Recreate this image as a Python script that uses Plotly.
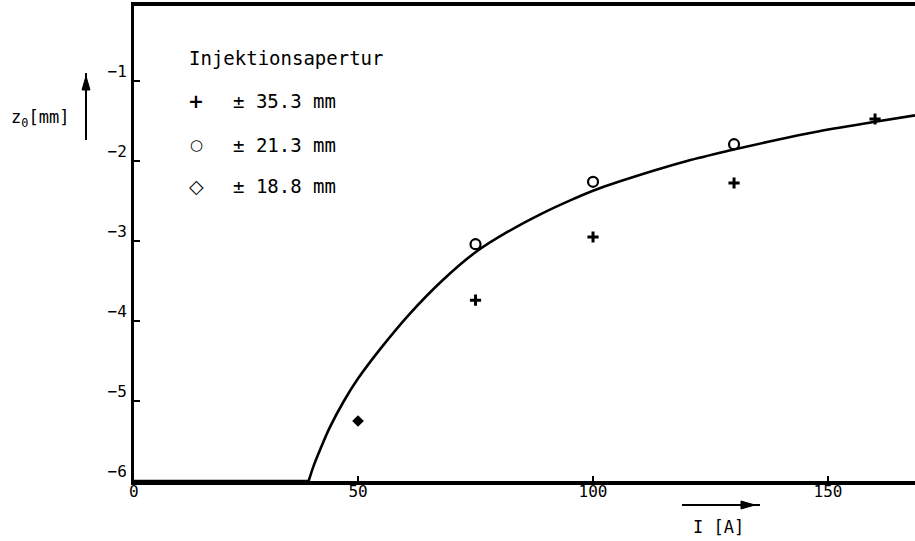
import plotly.graph_objects as go

# ---- data ----
flat_I = [0, 39.5]
flat_z = [-6.0, -6.0]
curve_I = [39.5, 40.5, 42, 44, 47, 50, 55, 61, 68, 75, 82, 89, 96, 101,
           113, 120, 129, 138, 147, 160, 168.5]
curve_z = [-6.0, -5.82, -5.6, -5.33, -5.0, -4.72, -4.33, -3.91, -3.49, -3.14,
           -2.88, -2.66, -2.47, -2.35, -2.12, -2.0, -1.87, -1.75, -1.64, -1.51, -1.43]

plus_I = [75, 100, 130, 160]
plus_z = [-3.74, -2.95, -2.275, -1.475]
circle_I = [75, 100, 130]
circle_z = [-3.04, -2.26, -1.79]
diamond_I = [50]
diamond_z = [-5.25]

x_ticks = [50, 100, 150]
y_ticks = [-1, -2, -3, -4, -5, -6]
legend_title = "Injektionsapertur"
legend_symbols = ["+", "○", "◇"]
legend_labels = ["± 35.3 mm", "± 21.3 mm", "± 18.8 mm"]
x_title = "I [A]"
y_title = "z<sub>0</sub>[mm]"

# ---- layout geometry ----
W, H = 915, 541
L, R, T, B = 134, 0, 6, 60
FONT = "DejaVu Sans Mono"


def paper(xp, yp):
    return (xp - L) / (W - L - R), (H - B - yp) / (H - T - B)


def path_px(points):
    parts = []
    for i, (a, b) in enumerate(points):
        px_, py_ = paper(a, b)
        parts.append(("M" if i == 0 else "L") + f"{px_:.5f},{py_:.5f}")
    return " ".join(parts) + " Z"


fig = go.Figure()

for xs, ys in ((flat_I, flat_z), (curve_I, curve_z)):
    fig.add_trace(go.Scatter(x=xs, y=ys, mode="lines",
                             line=dict(color="black", width=2.6, shape="spline", smoothing=1),
                             showlegend=False, hoverinfo="skip"))
fig.add_trace(go.Scatter(x=plus_I, y=plus_z, mode="markers",
                         marker=dict(symbol="cross-thin", size=8, color="black",
                                     line=dict(color="black", width=3)),
                         showlegend=False))
fig.add_trace(go.Scatter(x=circle_I, y=circle_z, mode="markers",
                         marker=dict(symbol="circle-open", size=10, color="black",
                                     line=dict(color="black", width=2.2)),
                         showlegend=False))
fig.add_trace(go.Scatter(x=diamond_I, y=diamond_z, mode="markers",
                         marker=dict(symbol="diamond", size=9, color="black"),
                         showlegend=False))

annotations = []
tx, ty = paper(187, 58)
annotations.append(dict(x=tx, y=ty, xref="paper", yref="paper", text=legend_title,
                        showarrow=False, xanchor="left", yanchor="middle",
                        font=dict(family=FONT, size=19, color="black")))
rows_y = [101, 145, 186]
sym_fonts = [dict(family="DejaVu Sans", size=19, weight="bold"),
             dict(family="DejaVu Sans", size=15),
             dict(family="DejaVu Sans", size=19)]
for sym, lab, yy, sf in zip(legend_symbols, legend_labels, rows_y, sym_fonts):
    sx, sy = paper(196, yy)
    annotations.append(dict(x=sx, y=sy, xref="paper", yref="paper", text=sym,
                            showarrow=False, xanchor="center", yanchor="middle",
                            font=dict(color="black", **sf)))
    lx, ly = paper(231, yy)
    annotations.append(dict(x=lx, y=ly, xref="paper", yref="paper", text=lab,
                            showarrow=False, xanchor="left", yanchor="middle",
                            font=dict(family=FONT, size=19, color="black")))

zx, zy = paper(134, 492)
annotations.append(dict(x=zx, y=zy, xref="paper", yref="paper", text="0",
                        showarrow=False, xanchor="center", yanchor="middle",
                        font=dict(family=FONT, size=16, color="black")))

ax_, ay_ = paper(718, 527)
annotations.append(dict(x=ax_, y=ay_, xref="paper", yref="paper", text=x_title,
                        showarrow=False, xanchor="center", yanchor="middle",
                        font=dict(family=FONT, size=17, color="black")))
bx, by = paper(40, 118)
annotations.append(dict(x=bx, y=by, xref="paper", yref="paper", text=y_title,
                        showarrow=False, xanchor="center", yanchor="middle",
                        font=dict(family=FONT, size=17, color="black")))

# arrows next to the axis titles
shapes = []
x0, y0 = paper(682, 505)
x1, y1 = paper(760, 505)
shapes.append(dict(type="line", xref="paper", yref="paper", x0=x0, y0=y0, x1=x1, y1=y1,
                   line=dict(color="black", width=2)))
shapes.append(dict(type="path", xref="paper", yref="paper",
                   path=path_px([(755, 505), (741, 501), (741, 509)]),
                   fillcolor="black", line=dict(color="black", width=1)))
x0, y0 = paper(86, 140)
x1, y1 = paper(86, 73)
shapes.append(dict(type="line", xref="paper", yref="paper", x0=x0, y0=y0, x1=x1, y1=y1,
                   line=dict(color="black", width=2)))
shapes.append(dict(type="path", xref="paper", yref="paper",
                   path=path_px([(86, 76), (82, 90), (90, 90)]),
                   fillcolor="black", line=dict(color="black", width=1)))

fig.update_layout(
    width=W, height=H,
    margin=dict(l=L, r=R, t=T, b=B, pad=0),
    paper_bgcolor="white", plot_bgcolor="white",
    font=dict(family=FONT, size=16, color="black"),
    annotations=annotations,
    shapes=shapes,
    showlegend=False,
)
fig.update_xaxes(range=[2.34, 168.5], tickvals=x_ticks, ticks="inside", ticklen=5,
                 tickwidth=2, tickcolor="black", showline=True, linewidth=3.5,
                 linecolor="black", mirror=True, showgrid=False, zeroline=False,
                 ticklabelstandoff=-7,
                 tickfont=dict(family=FONT, size=16, color="black"))
fig.update_yaxes(range=[-6, -0.0625], tickvals=y_ticks, ticks="inside", ticklen=6,
                 tickwidth=2, tickcolor="black", showline=True, linewidth=3,
                 linecolor="black", showgrid=False, zeroline=False,
                 ticklabelshift=-10, ticklabelstandoff=1,
                 tickfont=dict(family=FONT, size=16, color="black"))

fig.write_html("out.html", config={"displayModeBar": False},
               post_script="document.body.style.margin='0';")
